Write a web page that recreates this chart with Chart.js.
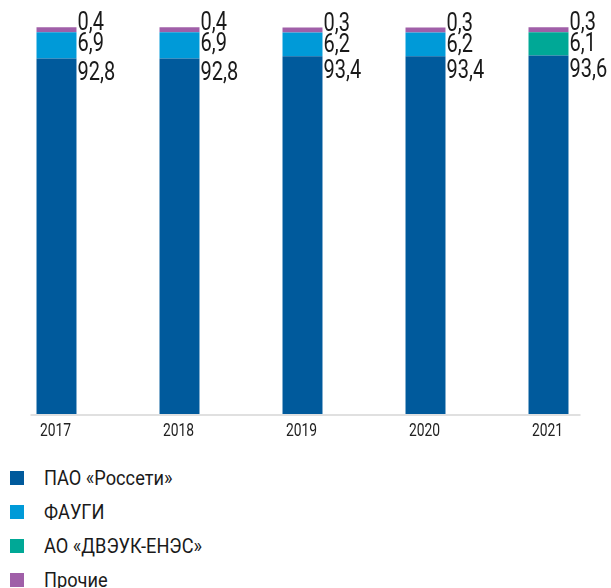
<!DOCTYPE html>
<html>
<head>
<meta charset="utf-8">
<script src="https://cdn.jsdelivr.net/npm/chart.js@4"></script>
<style>
  body { margin: 0; overflow: hidden; background: #fff; font-family: Roboto, sans-serif; }
  #wrap { position: relative; width: 615px; height: 450px; margin-left: -5px; }
  #legend { margin-top: 11px; padding-left: 10px; }
  .item { display: flex; align-items: center; height: 34px; font-size: 20px; color: #1a1a1a; }
  .box { width: 14px; height: 14px; margin-right: 20px; }
  .txt { display: inline-block; transform: scaleX(0.91); transform-origin: left center; white-space: nowrap; }
</style>
</head>
<body>
<div id="wrap"><canvas id="myChart"></canvas></div>
<div id="legend"></div>
<script>
// data
var years = ["2017", "2018", "2019", "2020", "2021"];
var rosseti = [92.8, 92.8, 93.4, 93.4, 93.6];
var faugi = [6.9, 6.9, 6.2, 6.2, 0];
var dveuk = [0, 0, 0, 0, 6.1];
var other = [0.4, 0.4, 0.3, 0.3, 0.3];

var names = ["ПАО «Россети»", "ФАУГИ", "АО «ДВЭУК-ЕНЭС»", "Прочие"];
var colors = ["#005a9c", "#009ad8", "#00a896", "#a05fa8"];
var series = [rosseti, faugi, dveuk, other];

function fmt(v) { return v.toFixed(1).replace(".", ","); }

// narrow text: the original uses a condensed face
function narrowText(ctx, s, x, y, sx, align) {
  ctx.save();
  ctx.translate(x, y);
  ctx.scale(sx, 1);
  ctx.textAlign = align;
  ctx.fillText(s, 0, 0);
  ctx.restore();
}

var sideLabels = {
  id: 'sideLabels',
  beforeDatasetsDraw: function(chart) {
    var ctx = chart.ctx, a = chart.chartArea;
    var xs = chart.scales.x;
    ctx.save();
    ctx.strokeStyle = '#e0e0e0';
    ctx.lineWidth = 2;
    ctx.beginPath();
    ctx.moveTo(xs.getPixelForValue(0) - 26, a.bottom + 1);
    ctx.lineTo(xs.getPixelForValue(years.length - 1) + 32, a.bottom + 1);
    ctx.stroke();
    ctx.restore();
  },
  afterDatasetsDraw: function(chart) {
    var ctx = chart.ctx, a = chart.chartArea;
    var xs = chart.scales.x;
    ctx.save();
    ctx.fillStyle = '#1a1a1a';
    ctx.textBaseline = 'middle';
    ctx.font = '25px Roboto, sans-serif';
    for (var i = 0; i < years.length; i++) {
      var darkBar = chart.getDatasetMeta(0).data[i];
      var topBar = chart.getDatasetMeta(3).data[i];
      var x = darkBar.x + darkBar.width / 2 + 1;
      var top = topBar.y;
      var mid = faugi[i] ? faugi[i] : dveuk[i];
      narrowText(ctx, fmt(other[i]), x, top - 3, 0.8, 'left');
      narrowText(ctx, fmt(mid), x, top + 18, 0.8, 'left');
      narrowText(ctx, fmt(rosseti[i]), x, Math.max(darkBar.y + 15, top + 44), 0.8, 'left');
    }
    // year labels under the bars
    ctx.fillStyle = '#222';
    ctx.font = '18px Roboto, sans-serif';
    for (var j = 0; j < years.length; j++) {
      narrowText(ctx, years[j], xs.getPixelForValue(j) - 1, a.bottom + 17.5, 0.77, 'center');
    }
    ctx.restore();
  }
};

var datasets = series.map(function(d, k) {
  return {
    label: names[k],
    data: d,
    backgroundColor: colors[k],
    categoryPercentage: 1,
    barPercentage: 0.325,
    minBarLength: k === 3 ? 5 : 0,
    clip: false
  };
});

var ctx = document.getElementById('myChart').getContext('2d');
var chart = new Chart(ctx, {
    type: 'bar',
    data: { labels: years, datasets: datasets },
    options: {
        responsive: true,
        maintainAspectRatio: false,
        animation: false,
        layout: { padding: { top: 31, bottom: 36, left: 0, right: 0 } },
        plugins: { legend: { display: false }, tooltip: { enabled: false } },
        scales: {
            x: { stacked: true, display: false },
            y: { stacked: true, display: false, min: 0, max: 100 }
        }
    },
    plugins: [sideLabels]
});

// legend as a vertical list under the chart
var lg = document.getElementById('legend');
names.forEach(function(n, k) {
  var row = document.createElement('div');
  row.className = 'item';
  row.innerHTML = '<span class="box" style="background:' + colors[k] + '"></span><span class="txt">' + n + '</span>';
  lg.appendChild(row);
});
</script>
</body>
</html>
